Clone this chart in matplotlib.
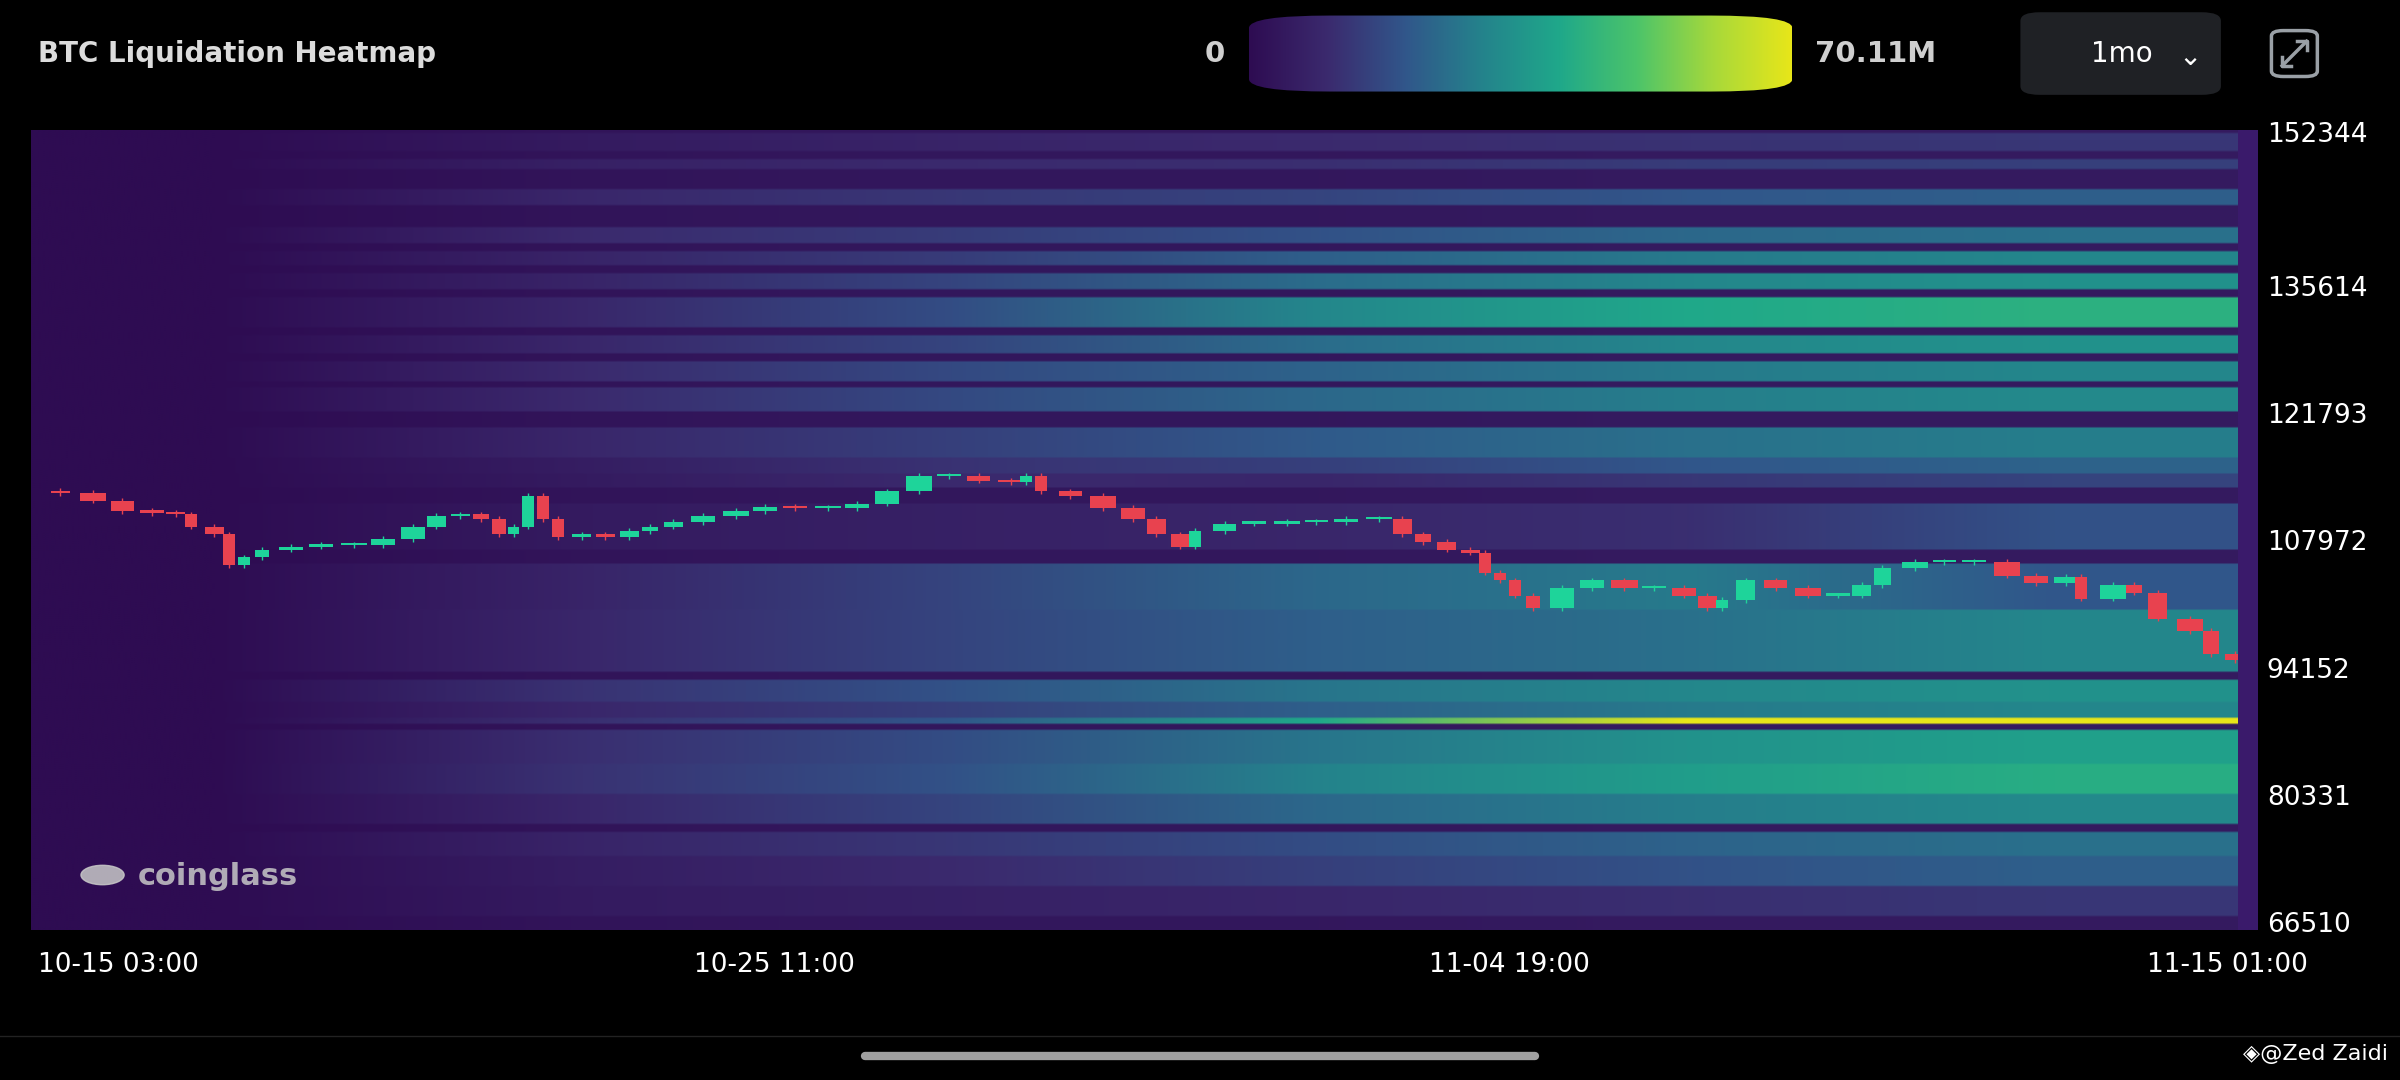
import matplotlib
matplotlib.use("Agg")
import matplotlib.pyplot as plt
import numpy as np
from matplotlib.patches import FancyBboxPatch, Rectangle
from matplotlib.colors import LinearSegmentedColormap

# ---------------- data ----------------
y_ticks = [66510, 80331, 94152, 107972, 121793, 135614, 152344]
x_tick_hours = [3, 251, 499, 745]
x_tick_labels = ["10-15 03:00", "10-25 11:00", "11-04 19:00", "11-15 01:00"]

candle_hours = [10,21,31,41,49,54,62,67,72,78,88,98,109,119,129,137,145,152,158,163,
                168,173,178,186,194,202,209,217,227,238,248,258,269,279,289,300,310,320,331,336,
                341,351,362,372,380,388,393,403,413,424,434,444,455,463,470,478,486,491,496,501,
                507,517,527,538,548,558,566,571,579,589,600,610,618,625,636,646,656,667,677,687,
                692,703,710,718,729,736,744]
candle_close = [113460,112630,111470,111300,111130,109800,108970,105640,106470,107300,
                107640,107800,107800,108470,109800,110970,111130,110630,108970,109800,
                113130,110630,108640,108970,108640,109300,109800,110300,110970,111470,
                111970,111800,111800,112300,113630,115300,115300,114800,114630,115300,
                113630,113130,111800,110630,108970,107640,109300,110130,110130,110300,
                110300,110630,110630,108970,108140,107300,106970,104810,103970,102310,
                100980,103140,103970,103140,103140,102310,100980,101810,103970,103140,
                102310,102310,103470,105310,105970,105970,105970,104470,103640,104310,
                101980,103470,102640,99810,98480,95980,95320]
first_open = 113700

seg_edges = [0, 40, 70, 170, 370, 560, 745]
base_level = [0, 3, 4, 4, 5, 5]
bands = [  # (low, high, intensity in M per time segment)
    (150593, 152590, [0, 2, 4, 6, 7, 8]),
    (148595, 149760, [0, 4, 6, 7, 9, 10]),
    (144765, 146430, [0, 6, 9, 12, 15, 17]),
    (140603, 142268, [0, 7, 10, 15, 19, 21]),
    (138105, 139770, [0, 5, 10, 18, 23, 26]),
    (135608, 137273, [0, 5, 12, 21, 26, 29]),
    (131445, 134775, [0, 6, 14, 27, 35, 38]),
    (128615, 130613, [0, 6, 12, 21, 26, 29]),
    (125618, 127616, [0, 7, 13, 19, 23, 26]),
    (122288, 124785, [0, 7, 13, 20, 24, 27]),
    (117293, 120623, [0, 6, 11, 17, 21, 24]),
    (115628, 117293, [0, 3, 8, 11, 15, 18]),
    (113963, 115628, [0, 2, 6, 5, 8, 11]),
    (107303, 112298, [0, 2, 3, 5, 6, 14]),
    (100643, 105638, [0, 5, 12, 20, 23, 15]),
    (93983, 100643, [0, 6, 12, 18, 21, 26]),
    (90653, 93150, [0, 9, 15, 23, 26, 29]),
    (88988, 90653, [0, 6, 11, 18, 23, 26]),
    (88322, 88988, [0, 8, 16, 36, 68, 68]),
    (83993, 87656, [0, 8, 14, 23, 29, 33]),
    (80663, 83993, [0, 9, 15, 26, 32, 37]),
    (77333, 80663, [0, 6, 12, 20, 24, 27]),
    (74003, 76500, [0, 5, 9, 14, 18, 21]),
    (70673, 74003, [0, 3, 6, 11, 14, 17]),
    (67343, 70673, [0, 2, 3, 5, 6, 8]),
]
vmax = 70.11

cmap = LinearSegmentedColormap.from_list(
    "cg", ["#2e0c52", "#3b2a6e", "#31568a", "#24838c", "#1fa88a", "#4cc46a", "#a8d93a", "#e8e619"])

# ---------------- figure ----------------
W, H = 1568, 706
fig = plt.figure(figsize=(24, 10.8), dpi=100, facecolor="black")
def fx(x): return x / W
def fy(y): return 1 - y / H

pmin, pmax = 66010, 152844
ax = fig.add_axes([fx(20), fy(608), fx(1462) - fx(20), fy(85) - fy(608)])
ax.set_facecolor("#2e0c52")

nrows = 400
prices = np.linspace(pmin, pmax, nrows)
grid = np.tile(np.array(base_level, dtype=float), (nrows, 1))
for lo, hi, vals in bands:
    m = (prices >= lo) & (prices <= hi)
    grid[m, :] += np.array(vals)
ax.imshow(grid, aspect="auto", origin="lower", cmap=cmap, vmin=0, vmax=vmax,
          extent=[seg_edges[0], seg_edges[-1], pmin, pmax], interpolation="bilinear")
ax.set_xlim(0, 745)
ax.set_ylim(pmin, pmax)

opens = [first_open] + candle_close[:-1]
hrs = np.array(candle_hours)
for i, (h, o, c) in enumerate(zip(candle_hours, opens, candle_close)):
    w = 0.8 * ((hrs[i] - hrs[i - 1]) if i > 0 else 8)
    col = "#1ed49a" if c >= o else "#e8424f"
    ax.vlines(h, min(o, c) - 300, max(o, c) + 300, color=col, lw=1.0, zorder=3)
    ax.add_patch(Rectangle((h - w / 2, min(o, c)), w, max(abs(c - o), 250),
                           color=col, zorder=4, lw=0))
for s in ax.spines.values():
    s.set_visible(False)
ax.set_xticks([]); ax.set_yticks([])

# right strip
fig.add_artist(Rectangle((fx(1462), fy(608)), fx(1475) - fx(1462), fy(85) - fy(608),
                         transform=fig.transFigure, color="#3a1a6b", lw=0))

# y labels
for p in y_ticks:
    yy = ax.transData.transform((0, p))[1] / fig.bbox.height
    fig.text(fx(1481), yy, str(p), color="white", fontsize=19, va="center", ha="left")
for h, lab in zip(x_tick_hours, x_tick_labels):
    xx = ax.transData.transform((h, 0))[0] / fig.bbox.width
    ha = "center"
    if h == x_tick_hours[0]:
        xx, ha = fx(25), "left"
    elif h == x_tick_hours[-1]:
        xx = fx(1455)
    fig.text(xx, fy(631), lab, color="white", fontsize=19, va="center", ha=ha)

# header
fig.text(fx(25), fy(35), "BTC Liquidation Heatmap", color="#dcdcdc", fontsize=20,
         fontweight="bold", va="center", ha="left")
fig.text(fx(800), fy(35), "0", color="#cfcfcf", fontsize=21, fontweight="bold",
         va="center", ha="right")
fig.text(fx(1186), fy(35), "70.11M", color="#cfcfcf", fontsize=21, fontweight="bold",
         va="center", ha="left")
cax = fig.add_axes([fx(816), fy(62), fx(1171) - fx(816), fy(8) - fy(62)])
cax.imshow(np.linspace(0, 1, 256)[None, :], aspect="auto", cmap=cmap)
cax.axis("off")
clip = FancyBboxPatch((0.02, 0.06), 0.96, 0.88, boxstyle="round,pad=0.02,rounding_size=0.15",
                      transform=cax.transAxes, facecolor="none", edgecolor="none")
cax.add_patch(clip)
cax.images[0].set_clip_path(clip)

fig.add_artist(FancyBboxPatch((fx(1320), fy(62)), fx(1451) - fx(1320), fy(8) - fy(62),
                              boxstyle="round,pad=0,rounding_size=0.008",
                              transform=fig.transFigure, facecolor="#1f2125", edgecolor="none"))
fig.text(fx(1386), fy(35), "1mo", color="white", fontsize=20, va="center", ha="center")
fig.text(fx(1431), fy(37), "⌄", color="white", fontsize=20, va="center", ha="center")
# expand icon
fig.add_artist(FancyBboxPatch((fx(1484), fy(50)), fx(1514) - fx(1484), fy(20) - fy(50),
                              boxstyle="round,pad=0,rounding_size=0.005",
                              transform=fig.transFigure, facecolor="none",
                              edgecolor="#9aa0a6", lw=2.5))
fig.add_artist(plt.Line2D([fx(1491), fx(1507)], [fy(43), fy(27)], color="#9aa0a6", lw=2.5))
for (xs, ys) in [([1491, 1491, 1497], [37, 43, 43]), ([1501, 1507, 1507], [27, 27, 33])]:
    fig.add_artist(plt.Line2D([fx(v) for v in xs], [fy(v) for v in ys], color="#9aa0a6", lw=2.5))

# watermark
fig.text(fx(90), fy(573), "coinglass", color="#c8c8c8", fontsize=22, fontweight="bold",
         va="center", ha="left", alpha=0.85)
fig.add_artist(plt.Circle((fx(67), fy(572)), 0.009, transform=fig.transFigure,
                          color="#c8c8c8", alpha=0.85))

# bottom
fig.add_artist(plt.Line2D([fx(0), fx(1568)], [fy(677), fy(677)], color="#222222", lw=1))
fig.add_artist(plt.Line2D([fx(565), fx(1003)], [fy(690), fy(690)], color="#a0a0a0",
                          lw=6, solid_capstyle="round"))
fig.text(fx(1560), fy(689), "◈@Zed Zaidi", color="white", fontsize=16,
         va="center", ha="right", family=["DejaVu Sans"])

fig.savefig("out.png", dpi=100, facecolor="black")
